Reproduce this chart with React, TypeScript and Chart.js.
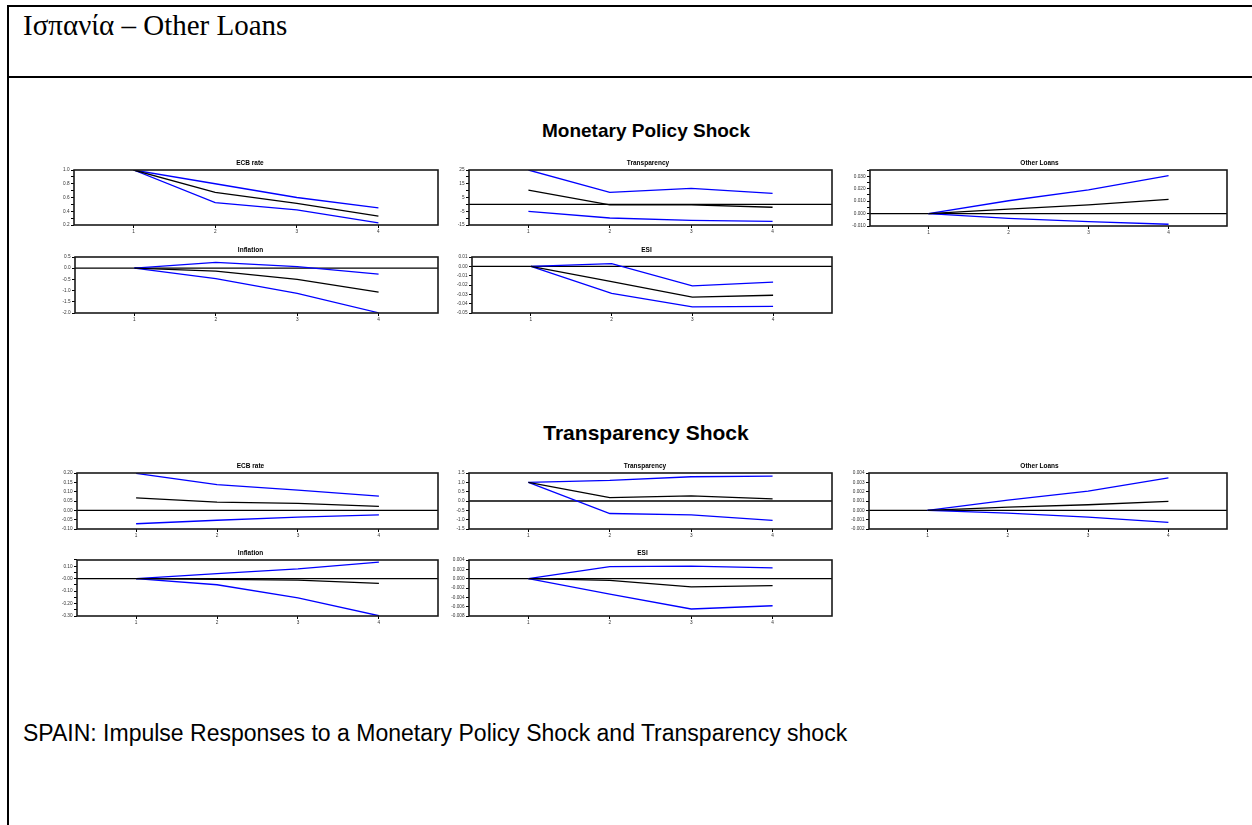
import React, { useEffect, useRef } from 'react';
import { Chart, registerables } from 'chart.js';

Chart.register(...registerables);

// ---------- DATA ----------
const periods = [1, 2, 3, 4];
const periodLabels = ['1', '2', '3', '4'];

// Monetary Policy Shock
const mpEcbMid = [1.0, 0.675, 0.515, 0.33];
const mpEcbUp = [1.0, 0.8, 0.6, 0.45];
const mpEcbLo = [1.0, 0.525, 0.42, 0.23];
const mpEcbTickValues = [0.2, 0.4, 0.6, 0.8, 1.0];
const mpEcbTickLabels = ['0.2', '0.4', '0.6', '0.8', '1.0'];

const mpTrMid = [10.3, -0.4, -0.3, -2.1];
const mpTrUp = [25.0, 8.8, 11.7, 8.0];
const mpTrLo = [-5.1, -9.9, -11.6, -12.3];
const mpTrTickValues = [-15, -5, 5, 15, 25];
const mpTrTickLabels = ['-15', '-5', '5', '15', '25'];

const mpOlMid = [0.0, 0.0035, 0.007, 0.0114];
const mpOlUp = [0.0, 0.0103, 0.019, 0.0305];
const mpOlLo = [0.0, -0.0038, -0.0065, -0.0086];
const mpOlTickValues = [-0.01, 0.0, 0.01, 0.02, 0.03];
const mpOlTickLabels = ['-0.010', '0.000', '0.010', '0.020', '0.030'];

const mpInfMid = [0.0, -0.13, -0.5, -1.07];
const mpInfUp = [0.0, 0.26, 0.07, -0.26];
const mpInfLo = [0.0, -0.47, -1.12, -1.99];
const mpInfTickValues = [-2.0, -1.5, -1.0, -0.5, 0.0, 0.5];
const mpInfTickLabels = ['-2.0', '-1.5', '-1.0', '-0.5', '0.0', '0.5'];

const mpEsiMid = [0.0, -0.0165, -0.033, -0.031];
const mpEsiUp = [0.0, 0.003, -0.021, -0.017];
const mpEsiLo = [0.0, -0.029, -0.0435, -0.043];
const mpEsiTickValues = [-0.05, -0.04, -0.03, -0.02, -0.01, 0.0, 0.01];
const mpEsiTickLabels = ['-0.05', '-0.04', '-0.03', '-0.02', '-0.01', '0.00', '0.01'];

// Transparency Shock
const tEcbMid = [0.067, 0.044, 0.037, 0.021];
const tEcbUp = [0.198, 0.138, 0.108, 0.076];
const tEcbLo = [-0.072, -0.053, -0.036, -0.024];
const tEcbTickValues = [-0.1, -0.05, 0.0, 0.05, 0.1, 0.15, 0.2];
const tEcbTickLabels = ['-0.10', '-0.05', '0.00', '0.05', '0.10', '0.15', '0.20'];

const tTrMid = [1.0, 0.18, 0.27, 0.11];
const tTrUp = [1.0, 1.1, 1.3, 1.33];
const tTrLo = [1.0, -0.67, -0.74, -1.04];
const tTrTickValues = [-1.5, -1.0, -0.5, 0.0, 0.5, 1.0, 1.5];
const tTrTickLabels = ['-1.5', '-1.0', '-0.5', '0.0', '0.5', '1.0', '1.5'];

const tOlMid = [0.0, 0.00034, 0.0006, 0.00095];
const tOlUp = [0.0, 0.00109, 0.00205, 0.00347];
const tOlLo = [0.0, -0.0003, -0.00072, -0.00129];
const tOlTickValues = [-0.002, -0.001, 0.0, 0.001, 0.002, 0.003, 0.004];
const tOlTickLabels = ['-0.002', '-0.001', '0.000', '0.001', '0.002', '0.003', '0.004'];

const tInfMid = [0.0, -0.005, -0.011, -0.038];
const tInfUp = [0.0, 0.041, 0.079, 0.133];
const tInfLo = [0.0, -0.049, -0.154, -0.298];
const tInfTickValues = [-0.3, -0.2, -0.1, 0.0, 0.1];
const tInfTickLabels = ['-0.30', '-0.20', '-0.10', '-0.00', '0.10'];

const tEsiMid = [0.0, -0.00036, -0.00175, -0.0015];
const tEsiUp = [0.0, 0.00256, 0.0027, 0.0023];
const tEsiLo = [0.0, -0.0033, -0.0065, -0.0058];
const tEsiTickValues = [-0.008, -0.006, -0.004, -0.002, 0.0, 0.002, 0.004];
const tEsiTickLabels = ['-0.008', '-0.006', '-0.004', '-0.002', '0.000', '0.002', '0.004'];

// ---------- PANEL TABLE ----------
const FONT = "'Liberation Sans', Arial, Helvetica, sans-serif";
const X_MIN = 0.27;
const X_MAX = 4.73;

type Box = { lab: number; l: number; t: number; r: number; b: number };
type Spec = {
  title: string; mid: number[]; up: number[]; lo: number[];
  min: number; max: number; minor: number; tv: number[]; tl: string[]; box: Box;
};

const panels: Spec[] = [
  { title: 'ECB rate', mid: mpEcbMid, up: mpEcbUp, lo: mpEcbLo, min: 0.2, max: 1.0, minor: 0.1, tv: mpEcbTickValues, tl: mpEcbTickLabels, box: { lab: 62, l: 74, t: 170, r: 438, b: 225 } },
  { title: 'Transparency', mid: mpTrMid, up: mpTrUp, lo: mpTrLo, min: -15, max: 25, minor: 5, tv: mpTrTickValues, tl: mpTrTickLabels, box: { lab: 464, l: 469, t: 170, r: 832, b: 225 } },
  { title: 'Other Loans', mid: mpOlMid, up: mpOlUp, lo: mpOlLo, min: -0.01, max: 0.035, minor: 0.005, tv: mpOlTickValues, tl: mpOlTickLabels, box: { lab: 852, l: 870, t: 170, r: 1227, b: 226 } },
  { title: 'Inflation', mid: mpInfMid, up: mpInfUp, lo: mpInfLo, min: -2.0, max: 0.5, minor: 0.5, tv: mpInfTickValues, tl: mpInfTickLabels, box: { lab: 63, l: 75, t: 257, r: 438, b: 313 } },
  { title: 'ESI', mid: mpEsiMid, up: mpEsiUp, lo: mpEsiLo, min: -0.05, max: 0.01, minor: 0.01, tv: mpEsiTickValues, tl: mpEsiTickLabels, box: { lab: 461, l: 472, t: 257, r: 832, b: 313 } },

  { title: 'ECB rate', mid: tEcbMid, up: tEcbUp, lo: tEcbLo, min: -0.1, max: 0.2, minor: 0.05, tv: tEcbTickValues, tl: tEcbTickLabels, box: { lab: 63, l: 77, t: 473, r: 438, b: 529 } },
  { title: 'Transparency', mid: tTrMid, up: tTrUp, lo: tTrLo, min: -1.5, max: 1.5, minor: 0.5, tv: tTrTickValues, tl: tTrTickLabels, box: { lab: 458, l: 469, t: 473, r: 832, b: 529 } },
  { title: 'Other Loans', mid: tOlMid, up: tOlUp, lo: tOlLo, min: -0.002, max: 0.004, minor: 0.001, tv: tOlTickValues, tl: tOlTickLabels, box: { lab: 852, l: 869, t: 473, r: 1227, b: 529 } },
  { title: 'Inflation', mid: tInfMid, up: tInfUp, lo: tInfLo, min: -0.3, max: 0.15, minor: 0.05, tv: tInfTickValues, tl: tInfTickLabels, box: { lab: 63, l: 77, t: 560, r: 438, b: 616 } },
  { title: 'ESI', mid: tEsiMid, up: tEsiUp, lo: tEsiLo, min: -0.008, max: 0.004, minor: 0.002, tv: tEsiTickValues, tl: tEsiTickLabels, box: { lab: 453, l: 469, t: 560, r: 832, b: 616 } },
];

const TITLE_H = 11;
const XAXIS_H = 14;
const PAD_R = 2;
const EXTRA = 16;

const framePlugin = {
  id: 'frameZero',
  beforeDatasetsDraw(chart: any) {
    const { ctx, chartArea, scales } = chart;
    const y = scales.y;
    if (y.min < 0 && y.max > 0) {
      const py = y.getPixelForValue(0);
      ctx.save();
      ctx.strokeStyle = '#000';
      ctx.lineWidth = 1.3;
      ctx.beginPath();
      ctx.moveTo(chartArea.left, py);
      ctx.lineTo(chartArea.right, py);
      ctx.stroke();
      ctx.restore();
    }
  },
  afterDraw(chart: any, _args: any, opts: any) {
    const { ctx, chartArea } = chart;
    ctx.save();
    ctx.strokeStyle = '#1a1a1a';
    ctx.lineWidth = 1.6;
    ctx.strokeRect(chartArea.left, chartArea.top, chartArea.right - chartArea.left, chartArea.bottom - chartArea.top);
    if (opts && opts.text) {
      ctx.fillStyle = '#000';
      ctx.font = `bold 6.5px ${FONT}`;
      ctx.textAlign = 'center';
      ctx.textBaseline = 'middle';
      ctx.fillText(opts.text, opts.cx, chartArea.top - 7);
    }
    ctx.restore();
  },
};

function Panel({ spec }: { spec: Spec }) {
  const ref = useRef<HTMLCanvasElement>(null);
  const { box } = spec;
  const w = box.r - box.lab + PAD_R + EXTRA;
  const h = box.b - box.t + TITLE_H + XAXIS_H;

  useEffect(() => {
    const mk = (arr: number[], color: string) => ({
      data: periods.map((p, i) => ({ x: p, y: arr[i] })),
      borderColor: color,
      borderWidth: 1.3,
      pointRadius: 0,
      tension: 0,
      fill: false,
    });
    const nMinor = Math.round((spec.max - spec.min) / spec.minor);
    const yTicks = Array.from({ length: nMinor + 1 }, (_, i) => ({ value: spec.min + i * spec.minor }));
    const yLabel = (v: number) => {
      const j = spec.tv.findIndex((t) => Math.abs(t - v) < spec.minor * 1e-3);
      return j >= 0 ? spec.tl[j] : '';
    };
    const chart = new Chart(ref.current as HTMLCanvasElement, {
      type: 'line',
      data: { datasets: [mk(spec.mid, '#000000'), mk(spec.up, '#0000ff'), mk(spec.lo, '#0000ff')] as any },
      options: {
        responsive: false,
        animation: false,
        devicePixelRatio: 1,
        layout: { padding: { left: 0, right: PAD_R, top: TITLE_H, bottom: 0 } },
        plugins: {
          legend: { display: false },
          tooltip: { enabled: false },
          title: { display: false },
          frameZero: { text: spec.title, cx: EXTRA + (box.r - box.lab) / 2 },
        },
        scales: {
          x: {
            type: 'linear',
            min: X_MIN,
            max: X_MAX,
            afterBuildTicks: (s: any) => { s.ticks = periods.map((v) => ({ value: v })); },
            afterFit: (s: any) => { s.height = XAXIS_H; },
            ticks: {
              autoSkip: false,
              maxRotation: 0,
              padding: 1,
              color: '#333',
              font: { family: FONT, size: 4.7 },
              callback: (v: any) => { const j = periods.indexOf(Number(v)); return j >= 0 ? periodLabels[j] : ''; },
            },
            grid: { drawOnChartArea: false, drawTicks: true, tickLength: 3, tickColor: '#000', tickWidth: 1 },
            border: { display: false },
          },
          y: {
            type: 'linear',
            min: spec.min,
            max: spec.max,
            afterBuildTicks: (s: any) => { s.ticks = yTicks; },
            afterFit: (s: any) => { s.width = box.l - box.lab + EXTRA; },
            ticks: {
              autoSkip: false,
              padding: 1.5,
              color: '#333',
              font: { family: FONT, size: 4.7 },
              callback: (v: any) => yLabel(Number(v)),
            },
            grid: { drawOnChartArea: false, drawTicks: true, tickLength: 3, tickColor: '#000', tickWidth: 1 },
            border: { display: false },
          },
        },
      } as any,
      plugins: [framePlugin],
    });
    return () => chart.destroy();
  }, []);

  return (
    <canvas
      ref={ref}
      width={w}
      height={h}
      style={{ position: 'absolute', left: box.lab - EXTRA, top: box.t - TITLE_H, width: w, height: h }}
    />
  );
}

export default function App() {
  return (
    <div style={{ position: 'absolute', left: 0, top: 0, width: 1252, height: 825, overflow: 'hidden', background: '#fff' }}>
      <div style={{ position: 'absolute', left: 7, top: 5, width: 1300, height: 900, border: '2px solid #000', boxSizing: 'border-box' }} />
      <div style={{ position: 'absolute', left: 7, top: 76, width: 1300, height: 2, background: '#000' }} />
      <div style={{ position: 'absolute', left: 23, top: 10.5, fontFamily: "'Liberation Serif', 'Times New Roman', serif", fontSize: 29, lineHeight: '29px', whiteSpace: 'nowrap', color: '#000' }}>
        Ισπανία – Other Loans
      </div>
      <div style={{ position: 'absolute', left: 0, width: 1292, top: 120.5, textAlign: 'center', fontFamily: FONT, fontWeight: 'bold', fontSize: 19, lineHeight: '19px', whiteSpace: 'nowrap' }}>
        Monetary Policy Shock
      </div>
      <div style={{ position: 'absolute', left: 0, width: 1292, top: 421.7, textAlign: 'center', fontFamily: FONT, fontWeight: 'bold', fontSize: 21, lineHeight: '21px', whiteSpace: 'nowrap' }}>
        Transparency Shock
      </div>
      {panels.map((p, i) => <Panel key={i} spec={p} />)}
      <div style={{ position: 'absolute', left: 23, top: 721.8, fontFamily: FONT, fontSize: 23, lineHeight: '23px', whiteSpace: 'nowrap' }}>
        SPAIN: Impulse Responses to a Monetary Policy Shock and Transparency shock
      </div>
    </div>
  );
}
